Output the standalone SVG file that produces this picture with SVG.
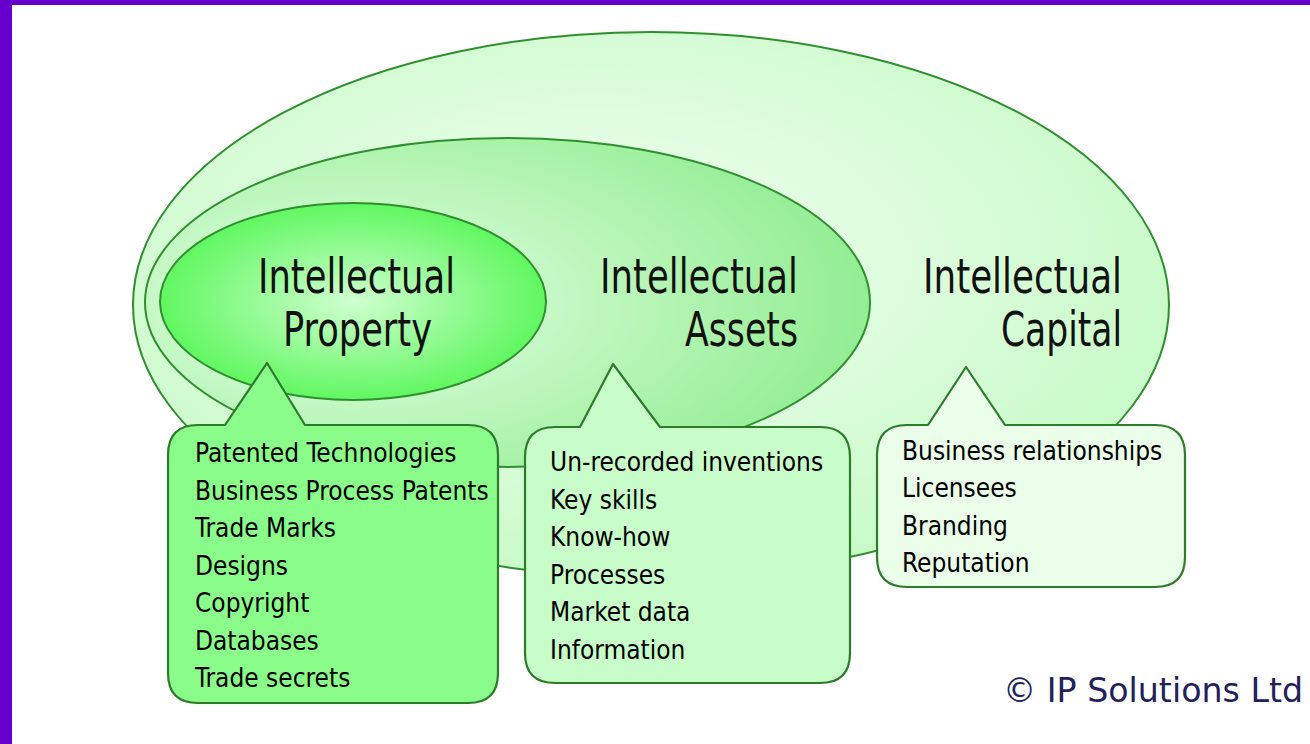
<svg xmlns="http://www.w3.org/2000/svg" width="1310" height="744" viewBox="0 0 1310 744">
<style>
.big{font-family:"DejaVu Sans Condensed","DejaVu Sans",sans-serif;font-size:48px;fill:#111}
.item{font-family:"DejaVu Sans Condensed","DejaVu Sans",sans-serif;font-size:26px;fill:#000}
.ell{stroke:#2f8f2f;stroke-width:2}
.call{stroke:#2c7c2c;stroke-width:2.2;stroke-linejoin:round}
.copy{font-family:"DejaVu Sans",sans-serif;font-size:33px;fill:#22225a}
</style>
<defs>
<radialGradient id="gOuter" cx="0.45" cy="0.42" r="0.62">
<stop offset="0" stop-color="#f2fff2"/>
<stop offset="1" stop-color="#c6fac6"/>
</radialGradient>
<radialGradient id="gMid" cx="0.28" cy="0.5" r="0.78">
<stop offset="0" stop-color="#e6ffe6"/>
<stop offset="1" stop-color="#8cec8c"/>
</radialGradient>
<radialGradient id="gIn" cx="0.5" cy="0.5" r="0.52">
<stop offset="0" stop-color="#d0ffd0"/>
<stop offset="1" stop-color="#5cf75c"/>
</radialGradient>
</defs>
<rect x="0" y="0" width="1310" height="744" fill="#ffffff"/>
<g id="frame">
<rect x="0" y="0" width="1310" height="5" fill="#6600cc"/>
<rect x="0" y="0" width="12" height="744" fill="#6600cc"/>
</g>
<g id="intellectual-capital">
<ellipse class="ell" cx="651" cy="305" rx="518" ry="273" fill="url(#gOuter)"/>
</g>
<g id="intellectual-assets">
<ellipse class="ell" cx="507.5" cy="302.5" rx="362.5" ry="164.5" fill="url(#gMid)"/>
</g>
<g id="intellectual-property">
<ellipse class="ell" cx="353" cy="301.5" rx="193" ry="98.5" fill="url(#gIn)"/>
<text class="big" x="258" y="293" textLength="197" lengthAdjust="spacingAndGlyphs">Intellectual</text>
<text class="big" x="283" y="346" textLength="149" lengthAdjust="spacingAndGlyphs">Property</text>
</g>
<g id="assets-label">
<text class="big" x="600" y="293" textLength="198" lengthAdjust="spacingAndGlyphs">Intellectual</text>
<text class="big" x="685" y="346" textLength="113" lengthAdjust="spacingAndGlyphs">Assets</text>
</g>
<g id="capital-label">
<text class="big" x="923" y="293" textLength="199" lengthAdjust="spacingAndGlyphs">Intellectual</text>
<text class="big" x="1001" y="346" textLength="121" lengthAdjust="spacingAndGlyphs">Capital</text>
</g>
<g id="callout-ip">
<path class="call" fill="#8afc8a" d="M198 425 L225 425 L267 363 L305 425 L468 425 Q498 425 498 455 L498 673 Q498 703 468 703 L198 703 Q168 703 168 673 L168 455 Q168 425 198 425 Z"/>
<text class="item" x="195" y="462">Patented Technologies</text>
<text class="item" x="195" y="499.5">Business Process Patents</text>
<text class="item" x="195" y="537">Trade Marks</text>
<text class="item" x="195" y="574.5">Designs</text>
<text class="item" x="195" y="612">Copyright</text>
<text class="item" x="195" y="649.5">Databases</text>
<text class="item" x="195" y="687">Trade secrets</text>
</g>
<g id="callout-ia">
<path class="call" fill="#c8fcc8" d="M555 427 L580 427 L613 364 L660 427 L820 427 Q850 427 850 457 L850 653 Q850 683 820 683 L555 683 Q525 683 525 653 L525 457 Q525 427 555 427 Z"/>
<text class="item" x="550" y="471">Un-recorded inventions</text>
<text class="item" x="550" y="508.5">Key skills</text>
<text class="item" x="550" y="546">Know-how</text>
<text class="item" x="550" y="583.5">Processes</text>
<text class="item" x="550" y="621">Market data</text>
<text class="item" x="550" y="658.5">Information</text>
</g>
<g id="callout-ic">
<path class="call" fill="#eafeea" d="M907 425 L928 425 L966 367 L1005 425 L1155 425 Q1185 425 1185 455 L1185 557 Q1185 587 1155 587 L907 587 Q877 587 877 557 L877 455 Q877 425 907 425 Z"/>
<text class="item" x="902" y="460">Business relationships</text>
<text class="item" x="902" y="497">Licensees</text>
<text class="item" x="902" y="535">Branding</text>
<text class="item" x="902" y="572">Reputation</text>
</g>
<g id="connectors"></g>
<g id="copyright">
<text class="copy" x="1003" y="702" textLength="300" lengthAdjust="spacingAndGlyphs">© IP Solutions Ltd</text>
</g>
</svg>
